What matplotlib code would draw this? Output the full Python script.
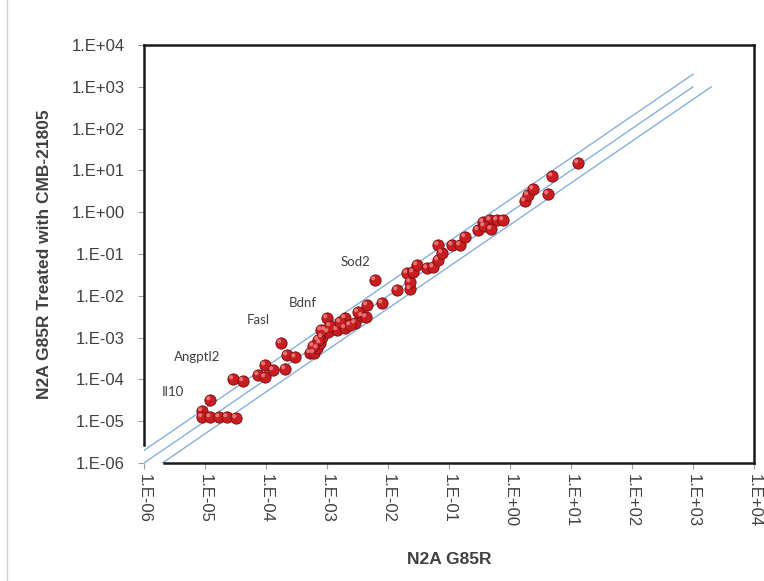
import matplotlib
matplotlib.use('Agg')
import matplotlib.pyplot as plt
import matplotlib.transforms as mtransforms
from matplotlib.lines import Line2D
import numpy as np

plt.rcParams['font.family'] = ['Liberation Sans', 'DejaVu Sans']

# expression values (x: N2A G85R, y: treated with CMB-21805)
x_vals = [8.9e-6, 8.9e-6, 1.21e-5, 1.21e-5, 1.70e-5, 2.30e-5, 3.22e-5,
          2.88e-5, 4.2e-5, 7.4e-5, 9.6e-5, 9.6e-5, 1.30e-4, 2.05e-4, 1.76e-4, 2.2e-4, 3.0e-4,
          5.3e-4, 6.1e-4, 6.9e-4, 7.7e-4, 8.3e-4, 9.3e-4, 1.04e-3, 1.46e-3, 1.97e-3,
          1.0e-3, 1.97e-3, 2.88e-3, 3.75e-3, 3.2e-3, 4.5e-3, 8.0e-3,
          8.0e-4, 1.12e-3, 1.63e-3, 2.38e-3, 7.1e-4, 4.35e-3, 5.9e-4,
          6.1e-3,
          0.0141, 0.0230, 0.0230, 0.0205, 0.0257, 0.0299, 0.0436, 0.0547, 0.066, 0.0768,
          0.066, 0.112, 0.151, 0.183, 0.299, 0.361, 0.470, 0.612, 0.768, 0.375, 0.489,
          1.76, 1.97, 2.38, 4.2, 4.9, 13.0]
y_vals = [1.75e-5, 1.26e-5, 3.2e-5, 1.26e-5, 1.26e-5, 1.26e-5, 1.2e-5,
          1.02e-4, 9.2e-5, 1.27e-4, 1.14e-4, 2.2e-4, 1.68e-4, 1.77e-4, 7.4e-4, 3.8e-4, 3.4e-4,
          4.3e-4, 4.3e-4, 5.6e-4, 7.4e-4, 1.03e-3, 1.52e-3, 1.36e-3, 1.52e-3, 1.70e-3,
          2.94e-3, 2.94e-3, 2.23e-3, 3.3e-3, 4.1e-3, 6.0e-3, 6.7e-3,
          1.52e-3, 1.9e-3, 2.36e-3, 2.0e-3, 8.8e-4, 3.1e-3, 6.3e-4,
          0.0239,
          0.0138, 0.0146, 0.0214, 0.035, 0.037, 0.0546, 0.046, 0.0489, 0.0718, 0.106,
          0.164, 0.164, 0.164, 0.255, 0.375, 0.583, 0.650, 0.650, 0.650, 0.468, 0.396,
          1.85, 2.58, 3.59, 2.72, 7.3, 15.0]

# gene labels
gene_names = ['Il10', 'Angptl2', 'Fasl', 'Bdnf', 'Sod2']
gene_x = [3.0e-6, 7.4e-6, 7.4e-5, 4.0e-4, 2.9e-3]
gene_y = [5.0e-5, 3.4e-4, 2.6e-3, 6.8e-3, 0.065]

# fold-change guide lines y = ratio * x
fold_ratios = [2, 1, 0.5]
fold_x_start = [5e-7, 1e-6, 2e-6]
fold_x_end = [1e3, 1e3, 2e3]

tick_vals = [10.0 ** k for k in range(-6, 5)]
tick_labels = ['1.E-06', '1.E-05', '1.E-04', '1.E-03', '1.E-02', '1.E-01',
               '1.E+00', '1.E+01', '1.E+02', '1.E+03', '1.E+04']

fig = plt.figure(figsize=(7.64, 5.81), dpi=100)
ax = fig.add_axes([0.1885, 0.2031, 0.7984, 0.7194])
ax.set_xscale('log')
ax.set_yscale('log')
ax.set_xlim(1e-6, 1e4)
ax.set_ylim(1e-6, 1e4)

for r, xs, xe in zip(fold_ratios, fold_x_start, fold_x_end):
    lx = np.array([xs, xe])
    ax.plot(lx, r * lx, color='#86aede', lw=1.0, zorder=2)

ax.scatter(x_vals, y_vals, s=66, color='#c81e22', edgecolors='#7a0b0e',
           linewidths=0.6, zorder=3)
hl = mtransforms.offset_copy(ax.transData, fig=fig, x=-1.3, y=1.3, units='points')
ax.scatter(x_vals, y_vals, s=9, color='#f08a8a', edgecolors='none', alpha=0.8,
           transform=hl, zorder=4)

for name, gx, gy in zip(gene_names, gene_x, gene_y):
    ax.text(gx, gy, name, fontsize=9.5, color='#404040', ha='center', va='center',
            family=['Lato', 'DejaVu Sans'])

ax.set_xticks(tick_vals)
ax.set_xticklabels(tick_labels, rotation=-90, fontsize=12, color='#404040')
ax.set_yticks(tick_vals)
ax.set_yticklabels(tick_labels, fontsize=12, color='#404040')
ax.minorticks_off()
ax.tick_params(axis='both', direction='out', length=4, width=0.8, color='#a0a0a0')
ax.tick_params(axis='x', pad=4)
ax.tick_params(axis='y', pad=10)

for s in ax.spines.values():
    s.set_linewidth(1.8)
    s.set_color('#1a1a1a')
ax.spines['left'].set_bounds(10 ** -5.57, 1e4)
ax.spines['bottom'].set_bounds(10 ** -5.67, 1e4)

ax.set_xlabel('N2A G85R', fontsize=12.5, fontweight='bold', color='#404040', labelpad=18)
ax.set_ylabel('N2A G85R Treated with CMB-21805', fontsize=12.5, fontweight='bold',
              color='#404040', labelpad=14)

fig.add_artist(Line2D([0.009, 0.009], [0.0, 1.0], color='#d0d0d0', lw=1.0))

fig.savefig('out.png', dpi=100)
